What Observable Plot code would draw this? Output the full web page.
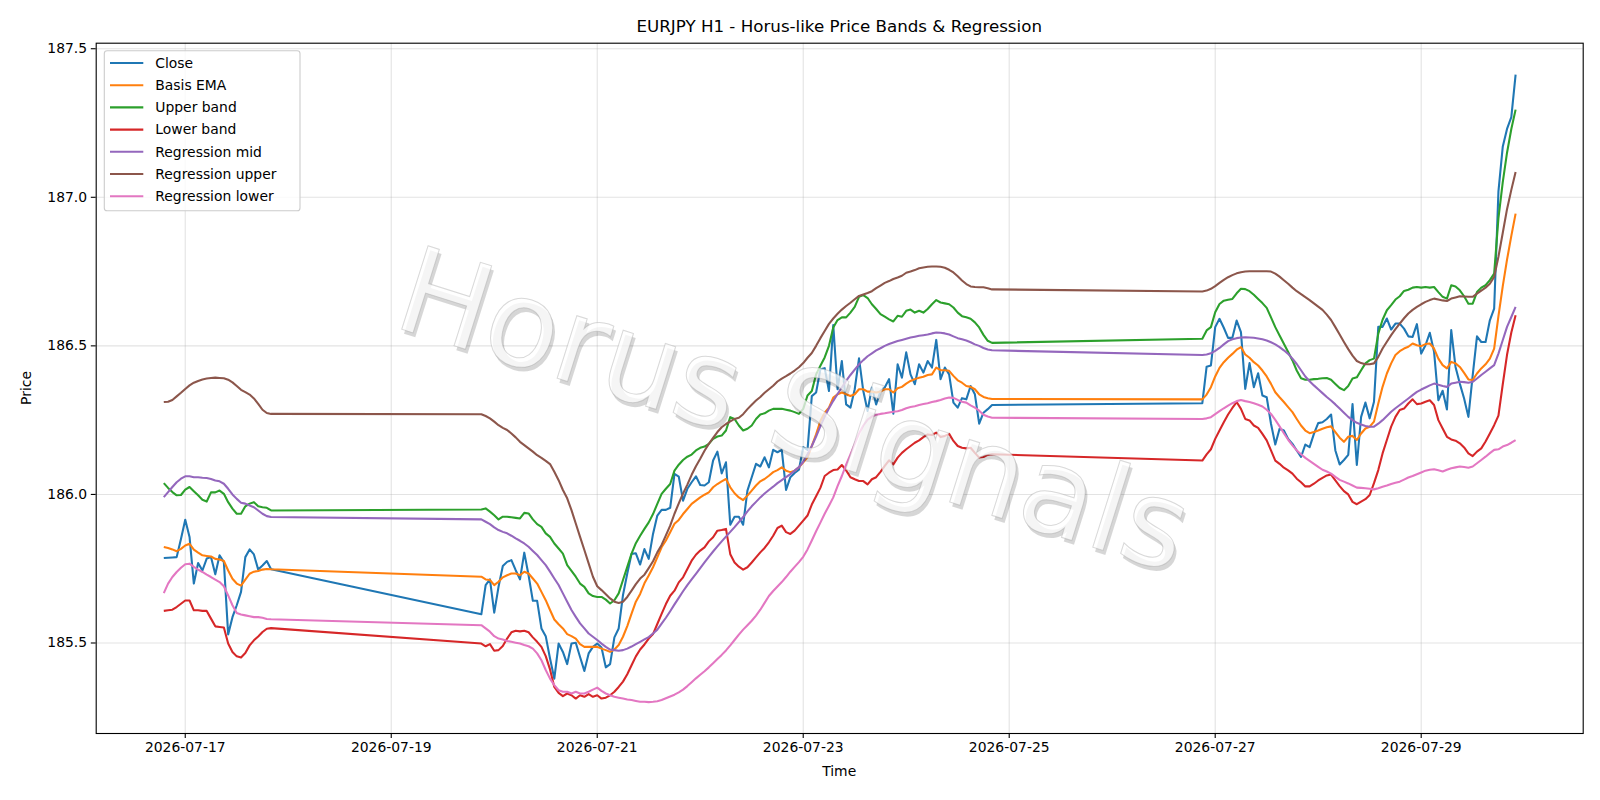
<!DOCTYPE html>
<html>
<head>
<meta charset="utf-8">
<script src="https://cdn.jsdelivr.net/npm/d3@7"></script>
<script src="https://cdn.jsdelivr.net/npm/@observablehq/plot@0.6"></script>
<style>
  html, body { margin: 0; padding: 0; background: #ffffff; }
  #chart svg { display: block; }
</style>
</head>
<body>
<div id="chart"></div>
<script>
// ---------------- data ----------------
const segmentStarts = ["2026-07-16T19:00:00Z", "2026-07-19T21:00:00Z", "2026-07-26T21:00:00Z"];
const segmentHours = [26, 120, 74];

const closeValues = [
  185.786,185.787,185.788,185.789,185.850,185.915,185.857,185.700,185.769,185.744,185.784,185.789,185.731,185.795,185.772,185.529,185.587,185.627,185.672,185.789,185.815,185.798,185.747,185.761,185.776,185.748,
  185.597,185.695,185.714,185.602,185.689,185.759,185.773,185.779,185.745,185.714,
  185.804,185.728,185.642,185.642,185.549,185.523,185.448,185.380,185.498,185.470,
  185.429,185.498,185.501,185.453,185.406,185.465,185.487,185.498,185.485,185.418,
  185.429,185.519,185.549,185.661,185.734,185.800,185.802,185.764,185.816,185.783,
  185.867,185.929,185.948,185.948,185.955,186.069,186.060,185.979,186.019,186.041,
  186.061,186.032,186.030,186.041,186.114,186.144,186.071,186.108,185.898,185.925,
  185.925,185.898,186.013,186.058,186.103,186.094,186.125,186.091,186.150,186.142,
  186.150,186.015,186.058,186.072,186.083,186.159,186.150,186.331,186.343,186.421,
  186.425,186.348,186.570,186.354,186.449,186.303,186.292,186.354,186.458,186.348,
  186.281,186.360,186.303,186.348,186.360,186.388,186.272,186.438,186.393,186.478,
  186.404,186.371,186.438,186.410,186.449,186.427,186.520,186.388,186.427,186.404,
  186.309,186.292,186.324,186.320,186.365,186.337,186.238,186.275,186.287,186.301,
  186.307,186.430,186.434,186.563,186.591,186.561,186.527,186.527,186.585,186.546,
  186.355,186.442,186.361,186.408,186.333,186.327,186.238,186.168,186.221,186.215,
  186.187,186.170,186.148,186.126,186.168,186.159,186.204,186.240,186.243,186.254,
  186.269,186.148,186.101,186.116,186.133,186.304,186.099,186.261,186.309,186.256,
  186.312,186.564,186.564,186.592,186.555,186.575,186.575,186.558,186.532,186.530,
  186.573,186.474,186.502,186.544,186.480,186.317,186.349,186.286,186.553,186.429,
  186.373,186.323,186.261,186.401,186.532,186.513,186.513,186.586,186.625,187.020,
  187.170,187.230,187.270,187.413
];

const emaValues = [
  185.823,185.820,185.815,185.809,185.817,185.828,185.834,185.814,185.804,185.795,185.793,185.791,185.783,185.781,185.776,185.744,185.716,185.700,185.693,185.713,185.733,185.740,185.742,185.747,185.749,185.748,
  185.723,185.714,185.712,185.695,185.706,185.721,185.728,185.734,185.734,185.728,
  185.740,185.734,185.717,185.700,185.672,185.644,185.611,185.579,185.563,185.549,
  185.530,185.523,185.515,185.496,185.487,185.487,185.487,185.487,185.481,185.476,
  185.470,185.478,185.493,185.521,185.557,185.599,185.639,185.665,185.701,185.727,
  185.755,185.788,185.822,185.845,185.873,185.901,185.914,185.934,185.951,185.968,
  185.979,185.990,185.999,186.007,186.024,186.035,186.044,186.052,186.024,186.004,
  185.990,185.981,185.996,186.013,186.030,186.044,186.052,186.063,186.075,186.082,
  186.091,186.080,186.075,186.080,186.091,186.108,186.125,186.163,186.202,186.247,
  186.275,186.292,186.326,186.337,186.343,186.337,186.331,186.337,186.354,186.354,
  186.346,186.346,186.343,186.346,186.354,186.354,186.343,186.357,186.362,186.373,
  186.382,186.388,186.393,186.396,186.402,186.404,186.427,186.418,186.418,186.416,
  186.399,186.384,186.376,186.365,186.362,186.354,186.337,186.328,186.324,186.321,
  186.320,186.336,186.361,186.397,186.426,186.445,186.460,186.473,186.487,186.496,
  186.471,186.460,186.445,186.434,186.417,186.397,186.372,186.344,186.327,186.311,
  186.294,186.277,186.254,186.232,186.215,186.206,186.210,186.215,186.221,186.226,
  186.229,186.210,186.191,186.177,186.194,186.197,186.183,186.205,186.222,186.228,
  186.245,186.306,186.362,186.407,186.441,186.469,186.482,186.491,186.497,186.508,
  186.502,186.499,186.506,186.508,186.491,186.457,186.435,186.424,186.446,186.441,
  186.429,186.409,186.387,186.385,186.407,186.424,186.438,186.457,186.491,186.600,
  186.700,186.790,186.870,186.945
];

const upperValues = [
  186.038,186.022,186.008,185.997,185.998,186.016,186.025,186.011,185.997,185.982,185.976,186.007,186.007,186.013,186.002,185.974,185.952,185.935,185.935,185.960,185.969,185.974,185.960,185.957,185.955,185.946,
  185.949,185.953,185.942,185.930,185.916,185.925,185.925,185.923,185.921,185.919,
  185.938,185.936,185.916,185.900,185.891,185.869,185.857,185.835,185.818,185.801,
  185.762,185.743,185.723,185.700,185.689,185.667,185.658,185.655,185.655,185.646,
  185.633,185.644,185.667,185.712,185.756,185.801,185.836,185.861,185.884,185.906,
  185.934,185.968,186.002,186.019,186.035,186.080,186.100,186.116,186.127,186.134,
  186.148,186.157,186.161,186.170,186.187,186.195,186.198,186.215,186.260,186.254,
  186.232,186.215,186.221,186.232,186.254,186.269,186.273,186.282,186.288,186.288,
  186.288,186.285,186.282,186.277,186.271,186.288,186.333,186.348,186.404,186.433,
  186.461,186.500,186.562,186.587,186.596,186.596,186.612,186.631,186.665,186.671,
  186.661,186.640,186.624,186.607,186.598,186.589,186.582,186.601,186.598,186.618,
  186.622,186.612,186.618,186.612,186.624,186.640,186.654,186.646,186.643,186.640,
  186.629,186.612,186.600,186.596,186.591,186.579,186.562,186.537,186.517,186.510,
  186.524,186.552,186.563,186.613,186.641,186.652,186.655,186.658,186.677,186.692,
  186.691,186.684,186.672,186.658,186.644,186.628,186.596,186.563,186.535,186.507,
  186.479,186.451,186.417,186.391,186.386,186.386,186.388,186.389,186.391,186.392,
  186.386,186.372,186.358,186.351,186.365,186.390,186.394,186.418,186.441,186.452,
  186.457,186.541,186.588,186.620,186.637,186.656,186.667,186.685,186.689,186.696,
  186.698,186.696,186.698,186.696,186.698,186.681,186.665,186.659,186.704,186.700,
  186.687,186.667,186.642,186.642,186.681,186.696,186.704,186.721,186.743,186.930,
  187.050,187.150,187.230,187.295
];

const lowerValues = [
  185.608,185.610,185.612,185.621,185.632,185.643,185.643,185.610,185.610,185.608,185.608,185.582,185.556,185.554,185.552,185.498,185.470,185.455,185.451,185.466,185.492,185.509,185.522,185.537,185.548,185.550,
  185.498,185.489,185.496,185.474,185.476,185.490,185.515,185.536,185.541,185.539,
  185.541,185.536,185.519,185.504,185.487,185.456,185.411,185.352,185.332,185.321,
  185.330,185.324,185.313,185.324,185.319,185.328,185.319,185.324,185.313,185.316,
  185.324,185.336,185.352,185.370,185.395,185.425,185.455,185.478,185.495,185.515,
  185.530,185.564,185.598,185.631,185.659,185.676,185.704,185.721,185.749,185.777,
  185.797,185.811,185.822,185.842,185.856,185.878,185.880,185.884,185.799,185.771,
  185.757,185.747,185.755,185.771,185.788,185.805,185.820,185.839,185.861,185.887,
  185.895,185.873,185.867,185.878,185.895,185.912,185.929,185.966,185.994,186.022,
  186.062,186.073,186.082,186.084,186.099,186.081,186.058,186.051,186.045,186.045,
  186.034,186.051,186.058,186.076,186.096,186.115,186.101,186.124,186.140,186.152,
  186.163,186.174,186.182,186.193,186.202,186.200,186.208,186.193,186.197,186.204,
  186.180,186.163,186.157,186.155,186.157,186.140,186.124,186.126,186.133,186.135,
  186.114,186.135,186.152,186.187,186.215,186.243,186.269,186.291,186.311,186.288,
  186.254,186.249,186.232,186.224,186.204,186.182,186.148,186.114,186.103,186.090,
  186.081,186.070,186.053,186.041,186.027,186.027,186.036,186.047,186.056,186.064,
  186.067,186.047,186.028,186.011,186.000,185.975,185.967,185.976,185.984,185.998,
  186.038,186.082,186.138,186.183,186.228,186.261,186.284,186.289,186.306,186.320,
  186.304,186.306,186.312,186.317,186.301,186.250,186.222,186.194,186.185,186.181,
  186.172,186.158,186.138,186.129,186.144,186.155,186.178,186.205,186.233,186.265,
  186.370,186.470,186.545,186.603
];

const regMidValues = [
  185.991,186.008,186.025,186.041,186.053,186.061,186.061,186.058,186.058,186.056,186.055,186.052,186.047,186.044,186.036,186.019,186.000,185.985,185.972,185.969,185.963,185.957,185.946,185.935,185.927,185.924,
  185.916,185.908,185.900,185.889,185.880,185.874,185.869,185.861,185.852,185.844,
  185.835,185.824,185.810,185.796,185.779,185.762,185.740,185.717,185.695,185.667,
  185.639,185.611,185.588,185.566,185.549,185.532,185.521,185.510,185.498,185.487,
  185.478,185.476,185.474,185.476,185.481,185.488,185.496,185.504,185.512,185.520,
  185.532,185.545,185.565,185.585,185.607,185.630,185.652,185.674,185.695,185.714,
  185.733,185.752,185.771,185.790,185.808,185.825,185.842,185.858,185.874,185.890,
  185.907,185.924,185.943,185.960,185.975,185.990,186.003,186.015,186.026,186.038,
  186.048,186.058,186.068,186.080,186.092,186.110,186.135,186.163,186.195,186.230,
  186.262,186.290,186.315,186.338,186.360,186.382,186.402,186.420,186.438,186.452,
  186.465,186.475,186.485,186.492,186.500,186.506,186.511,186.516,186.520,186.524,
  186.528,186.531,186.534,186.536,186.538,186.542,186.545,186.544,186.542,186.538,
  186.532,186.526,186.522,186.518,186.512,186.505,186.500,186.493,186.488,186.485,
  186.469,186.471,186.475,186.483,186.493,186.505,186.516,186.522,186.526,186.528,
  186.529,186.528,186.527,186.525,186.522,186.518,186.512,186.505,186.496,186.485,
  186.473,186.457,186.439,186.418,186.397,186.381,186.367,186.354,186.341,186.328,
  186.316,186.303,186.289,186.275,186.261,186.250,186.241,186.235,186.230,186.228,
  186.228,186.238,186.250,186.264,186.278,186.290,186.301,186.312,186.323,186.334,
  186.345,186.353,186.360,186.367,186.373,186.369,186.365,186.362,186.373,186.376,
  186.379,186.378,186.376,186.379,186.390,186.402,186.413,186.424,186.435,186.474,
  186.519,186.564,186.597,186.631
];

const regUpperValues = [
  186.311,186.312,186.318,186.330,186.342,186.355,186.367,186.376,186.382,186.387,186.390,186.392,186.393,186.392,186.391,186.386,186.377,186.365,186.352,186.344,186.336,186.323,186.305,186.285,186.274,186.271,
  186.270,186.264,186.256,186.245,186.233,186.224,186.217,186.205,186.192,186.177,
  186.166,186.155,186.144,186.132,186.123,186.113,186.102,186.076,186.048,186.015,
  185.987,185.947,185.902,185.857,185.813,185.768,185.723,185.691,185.678,185.664,
  185.650,185.639,185.635,185.639,185.655,185.676,185.698,185.717,185.730,185.752,
  185.775,185.805,185.830,185.862,185.895,185.935,185.970,186.003,186.033,186.066,
  186.095,186.120,186.147,186.170,186.190,186.210,186.226,186.237,186.246,186.254,
  186.258,186.270,186.287,186.302,186.316,186.328,186.342,186.354,186.366,186.380,
  186.390,186.398,186.407,186.417,186.428,186.442,186.460,186.476,186.500,186.526,
  186.550,186.574,186.592,186.608,186.622,186.634,186.645,186.657,186.668,186.673,
  186.678,186.684,186.694,186.703,186.712,186.718,186.725,186.730,186.736,186.746,
  186.750,186.755,186.761,186.764,186.766,186.767,186.767,186.766,186.763,186.756,
  186.747,186.734,186.720,186.708,186.700,186.698,186.697,186.697,186.694,186.690,
  186.683,186.686,186.692,186.701,186.712,186.722,186.731,186.738,186.744,186.748,
  186.750,186.751,186.751,186.751,186.751,186.751,186.750,186.743,186.733,186.721,
  186.709,186.696,186.684,186.674,186.664,186.654,186.643,186.632,186.621,186.605,
  186.587,186.563,186.538,186.513,186.489,186.467,186.449,186.442,186.438,186.438,
  186.441,186.463,186.491,186.514,186.536,186.556,186.575,186.593,186.609,186.621,
  186.631,186.640,186.648,186.654,186.659,186.656,186.653,186.651,186.659,186.663,
  186.667,186.666,186.665,186.665,186.676,186.686,186.696,186.709,186.732,186.800,
  186.880,186.960,187.025,187.085
];

const regLowerValues = [
  185.668,185.700,185.722,185.739,185.753,185.765,185.767,185.756,185.747,185.739,185.730,185.722,185.713,185.705,185.691,185.660,185.627,185.601,185.596,185.593,185.590,185.587,185.587,185.585,185.581,185.580,
  185.560,185.549,185.538,185.523,185.515,185.512,185.507,185.504,185.501,185.498,
  185.493,185.489,185.481,185.465,185.442,185.409,185.380,185.358,185.341,185.336,
  185.336,185.330,185.336,185.330,185.330,185.336,185.343,185.350,185.339,185.330,
  185.324,185.319,185.316,185.313,185.310,185.308,185.305,185.302,185.302,185.301,
  185.302,185.304,185.308,185.314,185.320,185.326,185.334,185.343,185.355,185.368,
  185.381,185.393,185.405,185.418,185.432,185.446,185.460,185.475,185.492,185.510,
  185.528,185.545,185.560,185.575,185.592,185.612,185.635,185.658,185.675,185.690,
  185.705,185.722,185.740,185.756,185.772,185.790,185.815,185.845,185.876,185.905,
  185.935,185.962,185.990,186.028,186.062,186.100,186.135,186.170,186.205,186.232,
  186.252,186.262,186.268,186.271,186.273,186.276,186.278,186.280,186.284,186.290,
  186.294,186.297,186.301,186.304,186.307,186.311,186.314,186.318,186.323,186.326,
  186.325,186.318,186.312,186.309,186.300,186.292,186.282,186.268,186.262,186.258,
  186.254,186.256,186.260,186.270,186.280,186.290,186.299,186.307,186.314,186.318,
  186.314,186.311,186.307,186.302,186.296,186.285,186.271,186.251,186.229,186.206,
  186.184,186.165,186.148,186.135,186.123,186.113,186.103,186.093,186.083,186.077,
  186.070,186.059,186.049,186.043,186.037,186.030,186.023,186.022,186.021,186.019,
  186.017,186.021,186.026,186.030,186.035,186.039,186.043,186.050,186.057,186.062,
  186.068,186.074,186.080,186.083,186.085,186.081,186.077,186.083,186.088,186.091,
  186.094,186.092,186.090,186.094,186.105,186.116,186.127,186.139,186.150,186.152,
  186.161,186.166,186.174,186.183
];

const seriesNames = ["Close", "Basis EMA", "Upper band", "Lower band", "Regression mid", "Regression upper", "Regression lower"];
const seriesColors = ["#1f77b4", "#ff7f0e", "#2ca02c", "#d62728", "#9467bd", "#8c564b", "#e377c2"];
const xTickLabels = ["2026-07-17", "2026-07-19", "2026-07-21", "2026-07-23", "2026-07-25", "2026-07-27", "2026-07-29"];
const yTickValues = [185.5, 186.0, 186.5, 187.0, 187.5];
const titleText = "EURJPY H1 - Horus-like Price Bands & Regression";
const xLabelText = "Time";
const yLabelText = "Price";
const watermarkText = "Horus Signals";

// ---------------- build table ----------------
const times = [];
segmentStarts.forEach((s, i) => {
  const t0 = new Date(s).getTime();
  for (let h = 0; h < segmentHours[i]; h++) times.push(new Date(t0 + h * 3600e3));
});
const seriesValues = [closeValues, emaValues, upperValues, lowerValues, regMidValues, regUpperValues, regLowerValues];
const rows = [];
seriesValues.forEach((vals, si) => {
  vals.forEach((v, i) => { if (i < times.length) rows.push({time: times[i], value: v, series: seriesNames[si]}); });
});

// matplotlib-like 5% autoscale margins
const tLo = +times[0], tHi = +times[times.length - 1];
const tPad = (tHi - tLo) * 0.05;
const xDomain = [new Date(tLo - tPad), new Date(tHi + tPad)];
const allV = rows.map(r => r.value);
const vLo = d3.min(allV), vHi = d3.max(allV);
const vPad = (vHi - vLo) * 0.05;
const yDomain = [vLo - vPad, vHi + vPad];
const xTicks = xTickLabels.map(d => new Date(d + "T00:00:00Z"));

const FONT = "'DejaVu Sans', 'Liberation Sans', sans-serif";
const mL = 95.7, mR = 17.3, mT = 42.7, mB = 67;

const chart = Plot.plot({
  width: 1600,
  height: 800,
  marginLeft: mL, marginRight: mR, marginTop: mT, marginBottom: mB,
  style: {fontFamily: FONT, fontSize: "13.9px", color: "#000", background: "#fff", overflow: "visible"},
  x: {type: "utc", domain: xDomain, label: null},
  y: {domain: yDomain, label: null},
  color: {domain: seriesNames, range: seriesColors},
  marks: [
    Plot.gridX(xTicks, {stroke: "#b0b0b0", strokeOpacity: 0.35, strokeWidth: 1.1}),
    Plot.gridY(yTickValues, {stroke: "#b0b0b0", strokeOpacity: 0.35, strokeWidth: 1.1}),
    Plot.line(rows, {x: "time", y: "value", z: "series", stroke: "series", strokeWidth: 2.08, strokeLinejoin: "round", strokeLinecap: "butt"}),
    Plot.axisX(xTicks, {tickFormat: d3.utcFormat("%Y-%m-%d"), tickSize: 4.9, tickPadding: 4.2, strokeWidth: 1.1, label: null, fontSize: 13.9}),
    Plot.axisY(yTickValues, {tickFormat: d3.format(".1f"), tickSize: 4.9, tickPadding: 4.2, strokeWidth: 1.1, label: null, fontSize: 13.9}),
    Plot.frame({stroke: "#000", strokeWidth: 1.1})
  ]
});
document.getElementById("chart").appendChild(chart);

const svg = d3.select(chart);
const cx = (mL + (1600 - mR)) / 2;

// watermark (semi-transparent text with drop shadow, above the lines)
const wm = svg.append("g").attr("transform", "translate(795,408) rotate(17.5)")
  .style("font-family", FONT).style("font-size", "120px");
wm.append("text").attr("x", 3.5).attr("y", 3.5).attr("text-anchor", "middle").attr("dy", "0.36em")
  .attr("fill", "#000").attr("fill-opacity", 0.16).text(watermarkText);
wm.append("text").attr("text-anchor", "middle").attr("dy", "0.36em")
  .attr("fill", "#fff").attr("fill-opacity", 0.75)
  .attr("stroke", "#a0a0a0").attr("stroke-opacity", 0.4).attr("stroke-width", 1.0)
  .text(watermarkText);

// title and axis labels
svg.append("text").attr("x", cx).attr("y", 32).attr("text-anchor", "middle")
  .style("font-family", FONT).style("font-size", "16.7px").attr("fill", "#000").text(titleText);
svg.append("text").attr("x", cx).attr("y", 776).attr("text-anchor", "middle")
  .style("font-family", FONT).style("font-size", "13.9px").attr("fill", "#000").text(xLabelText);
svg.append("text").attr("transform", "translate(26,388) rotate(-90)").attr("text-anchor", "middle").attr("dy", "0.35em")
  .style("font-family", FONT).style("font-size", "13.9px").attr("fill", "#000").text(yLabelText);

// legend
const lg = svg.append("g").style("font-family", FONT).style("font-size", "13.9px");
lg.append("rect").attr("x", 104.3).attr("y", 50.7).attr("width", 195.7).attr("height", 160)
  .attr("rx", 2.8).attr("fill", "#fff").attr("fill-opacity", 0.8)
  .attr("stroke", "#cccccc").attr("stroke-width", 1.1);
seriesNames.forEach((name, i) => {
  const y = 63 + i * 22.2;
  lg.append("line").attr("x1", 110).attr("x2", 143.3).attr("y1", y).attr("y2", y)
    .attr("stroke", seriesColors[i]).attr("stroke-width", 2.08);
  lg.append("text").attr("x", 155.3).attr("y", y).attr("dy", "0.35em")
    .attr("text-anchor", "start").attr("fill", "#000").text(name);
});
</script>
</body>
</html>
